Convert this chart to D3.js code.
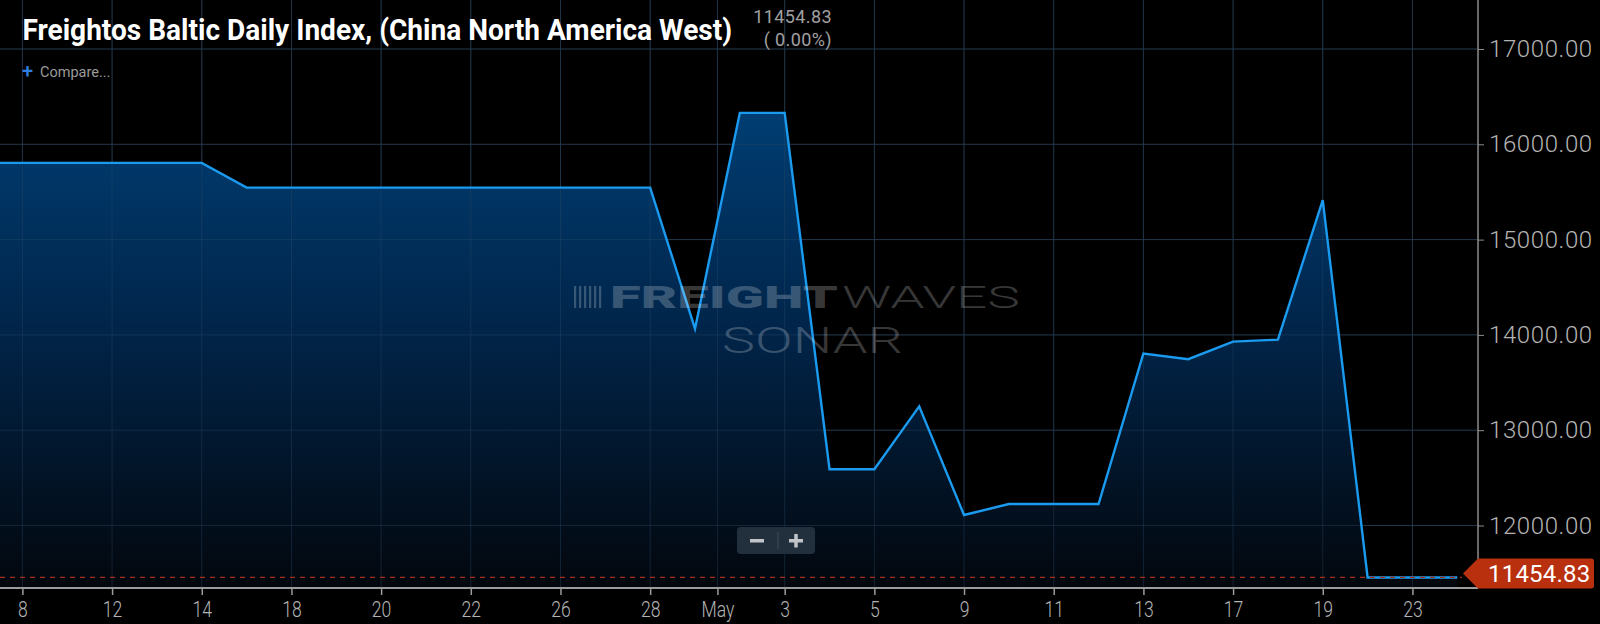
<!DOCTYPE html>
<html><head><meta charset="utf-8">
<script src="https://cdn.jsdelivr.net/npm/d3@7"></script>
<style>
html,body{margin:0;padding:0;background:#000;}
svg{display:block;}
text{font-family:Roboto,"Noto Sans",sans-serif;}
</style></head>
<body>
<script>
// ---- data ----
const titleText = "Freightos Baltic Daily Index, (China North America West)";
const lastValue = 11454.83;
const changeText = "( 0.00%)";
// point index along the (trading-day) axis
const pointIndex = [-1,0,1,2,3,4,5,6,7,8,9,10,11,12,13,14,15,16,17,18,19,20,21,22,23,24,25,26,27,28,29,30,31,32];
const values = [15805,15805,15805,15805,15805,15805,15545,15545,15545,15545,15545,15545,15545,15545,15545,15545,
                14065,16330,16330,12590,12590,13250,12110,12225,12225,12225,13805,13745,13930,13950,15415,
                11454.83,11454.83,11454.83];
const tickIndex = [0,2,4,6,8,10,12,14,15.5,17,19,21,23,25,27,29,31];
const tickLabels = ["8","12","14","18","20","22","26","28","May","3","5","9","11","13","17","19","23"];
const yTicks = [12000,13000,14000,15000,16000,17000];

// ---- layout ----
const W = 1600, H = 624;
const plotRight = 1478, plotBottom = 588;

const svg = d3.select("body").append("svg").attr("width", W).attr("height", H);
svg.append("rect").attr("width", W).attr("height", H).attr("fill", "#000");

const x = d3.scaleLinear().domain([0, 32]).range([22.4, 22.4 + 32 * 44.84]);
const y = d3.scaleLinear().domain([12000, 17000]).range([525.5, 49]);

const defs = svg.append("defs");
defs.append("clipPath").attr("id", "plotclip").append("rect")
  .attr("x", 0).attr("y", 0).attr("width", plotRight).attr("height", plotBottom);
const grad = defs.append("linearGradient").attr("id", "areaGrad")
  .attr("gradientUnits", "userSpaceOnUse").attr("x1", 0).attr("x2", 0)
  .attr("y1", y(16330)).attr("y2", plotBottom);
grad.append("stop").attr("offset", "0%").attr("stop-color", "#003d72");
grad.append("stop").attr("offset", "45%").attr("stop-color", "#01254a");
grad.append("stop").attr("offset", "100%").attr("stop-color", "#03070d");

// grid
const grid = svg.append("g");
grid.selectAll("line.v").data(tickIndex).enter().append("line")
  .attr("x1", d => x(d)).attr("x2", d => x(d)).attr("y1", 0).attr("y2", plotBottom)
  .attr("stroke", "#1c2835").attr("stroke-width", 1);
grid.selectAll("line.h").data(yTicks).enter().append("line")
  .attr("x1", 0).attr("x2", plotRight).attr("y1", d => y(d)).attr("y2", d => y(d))
  .attr("stroke", "#1c2835").attr("stroke-width", 1);

const pts = pointIndex.map((p, i) => [p, values[i]]);
const plot = svg.append("g").attr("clip-path", "url(#plotclip)");

plot.append("path").datum(pts)
  .attr("d", d3.area().x(d => x(d[0])).y0(plotBottom).y1(d => y(d[1])))
  .attr("fill", "url(#areaGrad)");

// grid over area (faint)
plot.selectAll("line.v2").data(tickIndex).enter().append("line")
  .attr("x1", d => x(d)).attr("x2", d => x(d)).attr("y1", 0).attr("y2", plotBottom)
  .attr("stroke", "#2a4866").attr("stroke-opacity", 0.4).attr("stroke-width", 1);
plot.selectAll("line.h2").data(yTicks).enter().append("line")
  .attr("x1", 0).attr("x2", plotRight).attr("y1", d => y(d)).attr("y2", d => y(d))
  .attr("stroke", "#2a4866").attr("stroke-opacity", 0.4).attr("stroke-width", 1);

// helper: horizontally scale a text to a given width (real transform, so bounds are accurate)
function fitWidth(sel, x0, y0, width) {
  const w = sel.node().getComputedTextLength();
  sel.attr("x", 0).attr("y", 0).attr("transform", `translate(${x0},${y0}) scale(${width / w},1)`);
  return sel;
}

// watermark
const wm = svg.append("g").attr("fill", "#ffffff").attr("fill-opacity", 0.22);
[0,1,2,3,4,5].forEach(k => {
  wm.append("rect").attr("x", 574 + k * 5).attr("y", 286).attr("width", 2.2).attr("height", 22);
});
fitWidth(wm.append("text").attr("font-size", 31).attr("font-weight", 900).text("FREIGHT"), 610, 308, 228);
fitWidth(wm.append("text").attr("font-size", 31).attr("font-weight", 300).text("WAVES"), 842, 308, 178);
fitWidth(wm.append("text").attr("font-size", 37).attr("font-weight", 300).text("SONAR"), 722, 353, 181);

// last value dashed line
svg.append("line").attr("x1", 0).attr("x2", 1462).attr("y1", y(lastValue)).attr("y2", y(lastValue))
  .attr("stroke", "#a3301c").attr("stroke-width", 1.2).attr("stroke-dasharray", "5,5");

// line
plot.append("path").datum(pts)
  .attr("d", d3.line().x(d => x(d[0])).y(d => y(d[1])))
  .attr("fill", "none").attr("stroke", "#1a9bf0").attr("stroke-width", 2.4)
  .attr("stroke-linejoin", "miter");

// x axis
const xAxis = svg.append("g").attr("transform", `translate(0,${plotBottom})`)
  .call(d3.axisBottom(x).tickValues(tickIndex).tickFormat((d, i) => tickLabels[i]).tickSize(7).tickSizeOuter(0));
xAxis.select(".domain").attr("d", `M0,0H${plotRight}`).attr("stroke", "#9c9c9c").attr("stroke-width", 2);
xAxis.selectAll(".tick line").attr("stroke", "#9c9c9c").attr("stroke-width", 1.5);
xAxis.selectAll(".tick text").attr("fill", "#b4b4b4").attr("font-size", 22).attr("font-weight", 300)
  .attr("y", 0).attr("dy", 0)
  .attr("transform", "translate(0,29) scale(0.8,1)");

// y axis
const yAxis = svg.append("g").attr("transform", `translate(${plotRight},0)`)
  .call(d3.axisRight(y).tickValues(yTicks).tickFormat(d3.format(".2f")).tickSize(6).tickSizeOuter(0));
yAxis.select(".domain").attr("d", `M0,0V${plotBottom}`).attr("stroke", "#8c8c8c").attr("stroke-width", 1.5);
yAxis.selectAll(".tick line").attr("stroke", "#8c8c8c");
yAxis.selectAll(".tick text").attr("fill", "#b4b4b4").attr("font-size", 24).attr("font-weight", 300)
  .attr("x", 11).attr("letter-spacing", 0.6);

// last value tag
const ty = y(lastValue) - 4, th = 30;
svg.append("path")
  .attr("d", `M1463,${ty} L1478,${ty - th / 2} H1591 Q1594,${ty - th / 2} 1594,${ty - th / 2 + 3} V${ty + th / 2 - 3} Q1594,${ty + th / 2} 1591,${ty + th / 2} H1478 Z`)
  .attr("fill", "#b8300e");
svg.append("text").attr("x", 1488).attr("y", ty).attr("dy", "0.35em")
  .attr("fill", "#fff").attr("font-size", 24).attr("font-weight", 400).attr("letter-spacing", 0.2)
  .text(d3.format(".2f")(lastValue));

// title
fitWidth(svg.append("text").attr("fill", "#fff").attr("font-size", 30).attr("font-weight", 700).text(titleText),
  22.5, 40, 710);
svg.append("text").attr("x", 832).attr("y", 23).attr("text-anchor", "end")
  .attr("fill", "#a0a0a0").attr("font-size", 18).attr("letter-spacing", 0.4).text(d3.format(".2f")(lastValue));
svg.append("text").attr("x", 832).attr("y", 46).attr("text-anchor", "end")
  .attr("fill", "#a0a0a0").attr("font-size", 18).attr("letter-spacing", 0.4).text(changeText);

// compare
svg.append("text").attr("x", 22).attr("y", 78).attr("fill", "#2f7fe0")
  .attr("font-size", 20).attr("font-weight", 500).text("+");
svg.append("text").attr("x", 40).attr("y", 77).attr("fill", "#9a9a9a")
  .attr("font-size", 14.5).text("Compare...");

// zoom buttons
const zb = svg.append("g");
zb.append("rect").attr("x", 737).attr("y", 527).attr("width", 78).attr("height", 27).attr("rx", 4)
  .attr("fill", "#22303d");
zb.append("line").attr("x1", 778).attr("x2", 778).attr("y1", 532).attr("y2", 549)
  .attr("stroke", "#3f4d5a").attr("stroke-width", 1);
zb.append("rect").attr("x", 750).attr("y", 539).attr("width", 14).attr("height", 3.5).attr("fill", "#c0c4c8");
zb.append("rect").attr("x", 789).attr("y", 539).attr("width", 14).attr("height", 3.5).attr("fill", "#c0c4c8");
zb.append("rect").attr("x", 794.25).attr("y", 534).attr("width", 3.5).attr("height", 13.5).attr("fill", "#c0c4c8");
</script>
</body></html>
